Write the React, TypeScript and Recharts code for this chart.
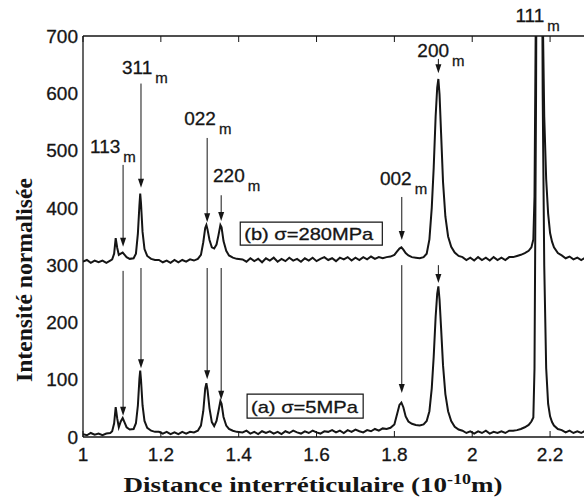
import {
  Line,
  LineChart,
  ReferenceArea,
  ReferenceDot,
  ReferenceLine,
  XAxis,
  YAxis,
} from "recharts";

// d-spacing (1e-10 m) shared by both spectra
const distance = [
  1.0, 1.01, 1.02, 1.03, 1.04, 1.05, 1.06, 1.07, 1.075, 1.08, 1.084, 1.088, 1.092, 1.097, 1.102,
  1.107, 1.112, 1.12, 1.13, 1.136, 1.141, 1.145, 1.147, 1.149, 1.153, 1.158, 1.165, 1.175, 1.185,
  1.195, 1.205, 1.215, 1.225, 1.235, 1.245, 1.255, 1.265, 1.275, 1.285, 1.295, 1.303, 1.309, 1.314,
  1.317, 1.32, 1.325, 1.331, 1.337, 1.343, 1.348, 1.353, 1.356, 1.361, 1.368, 1.375, 1.385, 1.395,
  1.41, 1.42, 1.43, 1.44, 1.45, 1.46, 1.47, 1.48, 1.49, 1.5, 1.51, 1.52, 1.53, 1.54, 1.55, 1.56,
  1.57, 1.58, 1.59, 1.6, 1.61, 1.62, 1.63, 1.64, 1.65, 1.66, 1.67, 1.68, 1.69, 1.7, 1.71, 1.72,
  1.73, 1.74, 1.75, 1.76, 1.77, 1.78, 1.79, 1.8, 1.807, 1.813, 1.818, 1.823, 1.829, 1.836, 1.845,
  1.855, 1.865, 1.875, 1.883, 1.89, 1.896, 1.901, 1.906, 1.91, 1.913, 1.916, 1.92, 1.925, 1.931,
  1.938, 1.946, 1.955, 1.965, 1.975, 1.985, 1.995, 2.005, 2.015, 2.025, 2.035, 2.045, 2.055, 2.065,
  2.075, 2.085, 2.095, 2.105, 2.115, 2.125, 2.135, 2.145, 2.152, 2.157, 2.16, 2.164, 2.167, 2.171,
  2.175, 2.178, 2.181, 2.185, 2.19, 2.195, 2.2, 2.205, 2.21, 2.22, 2.23, 2.24, 2.25, 2.26, 2.27,
  2.28, 2.29, 2.3,
];

// (a) sigma = 5 MPa
const intensityA = [
  5, 3, 7, 4, 6, 3, 6, 7, 10, 24, 52, 32, 17, 27, 33,
  25, 17, 13, 14, 24, 55, 102, 116, 100, 55, 28, 16, 11, 9,
  9, 6, 9, 5, 8, 5, 9, 6, 9, 8, 11, 20, 45, 85,
  94, 82, 50, 26, 19, 28, 45, 63, 58, 35, 20, 14, 11, 9,
  8, 11, 6, 9, 5, 10, 7, 10, 6, 9, 5, 10, 7, 11, 8, 6,
  10, 7, 11, 8, 6, 10, 9, 12, 8, 11, 7, 12, 9, 13, 10, 8,
  12, 10, 14, 11, 15, 14, 16, 22, 40, 56, 60, 52, 36, 27, 23,
  21, 20, 22, 28, 45, 85, 140, 210, 250, 263, 240, 190, 125, 75,
  45, 28, 18, 13, 11, 7, 10, 6, 10, 7, 11, 6, 9, 7,
  10, 7, 11, 11, 12, 14, 17, 21, 27, 34, 120, 600, 1200, 2000,
  2000, 1100, 600, 300, 120, 58, 36, 26, 20, 14, 12, 8, 11, 7, 10,
  7, 11, 8,
];

// (b) sigma = 280 MPa
const intensityB = [
  306, 309, 304, 308, 305, 308, 304, 308, 310, 320, 347, 330, 318, 320, 322,
  318, 314, 311, 312, 320, 355, 405, 425, 408, 358, 328, 316, 311, 309,
  309, 305, 308, 304, 309, 305, 309, 306, 310, 308, 311, 318, 340, 365,
  370, 362, 344, 331, 329, 336, 352, 370, 366, 342, 325, 317, 313, 311,
  310, 306, 312, 307, 311, 305, 312, 308, 313, 306, 311, 307, 313, 308, 311, 306,
  312, 308, 313, 307, 311, 314, 309, 312, 307, 313, 310, 314, 308, 313, 309, 314,
  310, 315, 311, 314, 312, 314, 315, 318, 324, 329, 331, 327, 321, 317, 314,
  313, 312, 314, 320, 345, 400, 470, 560, 610, 625, 598, 530, 445, 385,
  350, 332, 322, 316, 314, 309, 313, 308, 314, 309, 313, 308, 314, 309,
  313, 309, 314, 314, 316, 318, 321, 325, 331, 345, 420, 800, 1400, 2000,
  2000, 1300, 750, 560, 450, 390, 356, 341, 331, 321, 317, 312, 315, 310, 313,
  309, 313, 309,
];

const xTicks = [1, 1.2, 1.4, 1.6, 1.8, 2, 2.2];
const yTicks = [0, 100, 200, 300, 400, 500, 600, 700];

// reflection labels (m = monoclinic), anchored at the start of the text
const peakNames = ["113", "311", "022", "220", "002", "200", "111"];
const peakLabelX = [1.018, 1.1, 1.26, 1.334, 1.763, 1.859, 2.111];
const peakLabelY = [496, 634, 545, 445, 440, 663, 724];

// arrows: shaft top and tip, upper spectrum (b) and lower spectrum (a)
const arrowX = [1.103, 1.149, 1.319, 1.355, 1.819, 1.913];
const arrowTopB = [475, 617, 522, 422, 419, 660];
const arrowTipB = [332, 435, 375, 377, 344, 635];
const arrowTopA = [290, 295, 295, 295, 300, 300];
const arrowTipA = [37, 120, 101, 65, 77, 269];

const INK = "#151515";
const SANS = "'Liberation Sans', Arial, Helvetica, sans-serif";
const SERIF = "'Liberation Serif', 'Times New Roman', serif";

const rows = distance.map((d, i) => ({ d, a: intensityA[i], b: intensityB[i] }));

const blankTick = () => <g />;

function Arrow(p: any) {
  const { x1, y1, x2, y2 } = p;
  return (
    <g>
      <line x1={x1} y1={y1} x2={x2} y2={y2 - 6} stroke={INK} strokeWidth={1} />
      <path d={`M${x2},${y2} L${x2 - 3},${y2 - 9} L${x2 + 3},${y2 - 9} Z`} fill={INK} />
    </g>
  );
}

const peakLabel = (name: string) => (p: any) => (
  <text x={p.cx} y={p.cy} fontFamily={SANS} fontSize={19} fill={INK} stroke={INK} strokeWidth={0.3}>
    {name}
    <tspan dx={3} dy={9} fontSize={15}>
      m
    </tspan>
  </text>
);

const boxText = (value: string, len: number) => (p: any) => (
  <text
    x={p.cx}
    y={p.cy}
    textAnchor="middle"
    fontFamily={SANS}
    fontSize={17}
    fill={INK}
    stroke={INK}
    strokeWidth={0.3}
    textLength={len}
    lengthAdjust="spacingAndGlyphs"
  >
    {value}
  </text>
);

const XTitle = (p: any) => {
  const vb = p.viewBox;
  return (
    <text
      x={vb.x + 230}
      y={492}
      textAnchor="middle"
      fontFamily={SERIF}
      fontWeight="bold"
      fontSize={21}
      fill={INK}
      textLength={379}
      lengthAdjust="spacingAndGlyphs"
    >
      Distance interréticulaire (10
      <tspan dy={-8} fontSize={14}>
        -10
      </tspan>
      <tspan dy={8}>m)</tspan>
    </text>
  );
};

const YTitle = (p: any) => {
  const vb = p.viewBox;
  const x = vb.x + 32;
  const y = 280;
  return (
    <text
      x={x}
      y={y}
      transform={`rotate(-90 ${x} ${y})`}
      textAnchor="middle"
      fontFamily={SERIF}
      fontWeight="bold"
      fontSize={24}
      fill={INK}
      textLength={204}
      lengthAdjust="spacingAndGlyphs"
    >
      Intensité normalisée
    </text>
  );
};

const tickStyle = { fill: INK, fontSize: 19, fontFamily: SANS, stroke: INK, strokeWidth: 0.3 };

export default function App() {
  return (
    <div
      style={{
        position: "absolute",
        left: 0,
        top: 0,
        width: 584,
        height: 499,
        overflow: "hidden",
        background: "#fff",
      }}
    >
      <LineChart width={600} height={499} data={rows} margin={{ top: 36, right: 11, left: 0, bottom: 0 }}>
        <XAxis
          dataKey="d"
          type="number"
          domain={[1, 2.3]}
          ticks={xTicks}
          allowDataOverflow
          height={62}
          tickLine={false}
          tickSize={0}
          tickMargin={11}
          axisLine={{ stroke: INK, strokeWidth: 1.3 }}
          tick={tickStyle}
          label={{ content: XTitle }}
        />
        <XAxis
          xAxisId="bt"
          dataKey="d"
          type="number"
          domain={[1, 2.3]}
          ticks={xTicks}
          mirror
          tick={blankTick}
          tickSize={6}
          tickLine={{ stroke: INK }}
          axisLine={false}
        />
        <XAxis
          xAxisId="top"
          orientation="top"
          dataKey="d"
          type="number"
          domain={[1, 2.3]}
          ticks={xTicks}
          mirror
          tick={blankTick}
          tickSize={6}
          tickLine={{ stroke: INK }}
          axisLine={{ stroke: INK, strokeWidth: 1.3 }}
        />
        <YAxis
          type="number"
          domain={[0, 700]}
          ticks={yTicks}
          allowDataOverflow
          width={83}
          tickLine={false}
          tickSize={0}
          tickMargin={5}
          axisLine={{ stroke: INK, strokeWidth: 1.3 }}
          tick={tickStyle}
          label={{ content: YTitle }}
        />
        <YAxis
          yAxisId="lt"
          type="number"
          domain={[0, 700]}
          ticks={yTicks}
          mirror
          tick={blankTick}
          tickSize={6}
          tickLine={{ stroke: INK }}
          axisLine={false}
        />
        <YAxis
          yAxisId="r"
          orientation="right"
          type="number"
          domain={[0, 700]}
          ticks={yTicks}
          mirror
          tick={blankTick}
          tickSize={6}
          tickLine={{ stroke: INK }}
          axisLine={{ stroke: INK, strokeWidth: 1.3 }}
        />

        <ReferenceArea x1={1.404} x2={1.769} y1={335} y2={375} stroke={INK} strokeWidth={1.2} fill="#fff" fillOpacity={1} />
        <ReferenceArea x1={1.4216} x2={1.7198} y1={33} y2={75} stroke={INK} strokeWidth={1.2} fill="#fff" fillOpacity={1} />
        <ReferenceDot x={1.58} y={344} r={0} shape={boxText("(b) σ=280MPa", 129)} />
        <ReferenceDot x={1.569} y={42} r={0} shape={boxText("(a) σ=5MPa", 107)} />

        <Line dataKey="b" type="linear" stroke={INK} strokeWidth={2} dot={false} activeDot={false} isAnimationActive={false} />
        <Line dataKey="a" type="linear" stroke={INK} strokeWidth={2} dot={false} activeDot={false} isAnimationActive={false} />

        {arrowX.map((x, i) => (
          <ReferenceLine
            key={`ab${i}`}
            segment={[
              { x, y: arrowTopB[i] },
              { x, y: arrowTipB[i] },
            ]}
            shape={Arrow}
          />
        ))}
        {arrowX.map((x, i) => (
          <ReferenceLine
            key={`aa${i}`}
            segment={[
              { x, y: arrowTopA[i] },
              { x, y: arrowTipA[i] },
            ]}
            shape={Arrow}
          />
        ))}
        {peakNames.map((name, i) => (
          <ReferenceDot
            key={name}
            x={peakLabelX[i]}
            y={peakLabelY[i]}
            r={0}
            ifOverflow="visible"
            shape={peakLabel(name)}
          />
        ))}
      </LineChart>
    </div>
  );
}
